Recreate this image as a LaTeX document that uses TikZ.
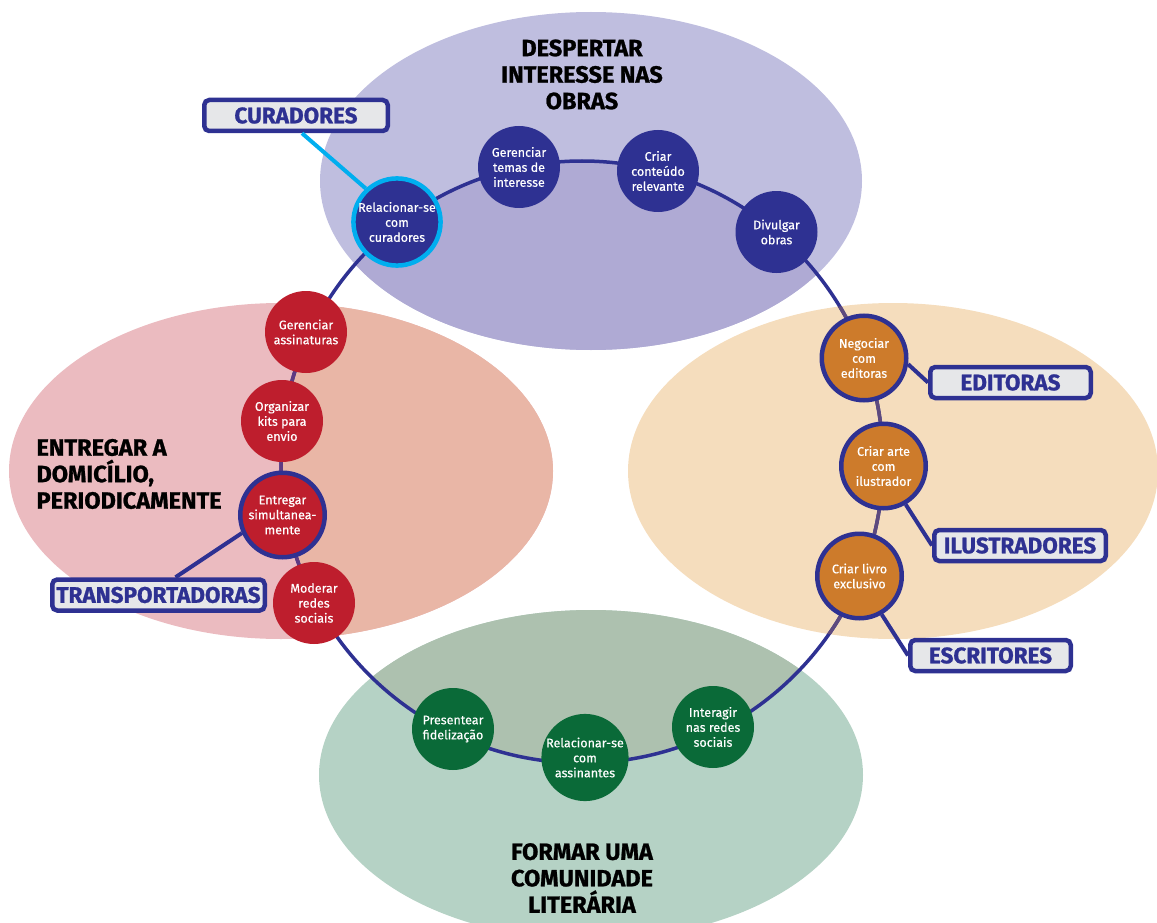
\documentclass[tikz,border=0pt]{standalone}
\usepackage{fontspec}
\setmainfont{Fira Sans}
\definecolor{navy}{HTML}{2E3192}
\definecolor{cyanring}{HTML}{00AEEF}
\definecolor{nodered}{HTML}{BE1E2D}
\definecolor{nodeorange}{HTML}{CD7B2B}
\definecolor{nodegreen}{HTML}{0A6A38}
\definecolor{tagfill}{HTML}{E6E7E9}
\definecolor{purpleout}{HTML}{BFBEDF}
\definecolor{purplein}{HTML}{AFAAD4}
\definecolor{redout}{HTML}{EBBBC0}
\definecolor{redin}{HTML}{E9B6A6}
\definecolor{orangebg}{HTML}{F5DDBD}
\definecolor{greenout}{HTML}{B5D2C5}
\definecolor{greenin}{HTML}{ADC1AF}
\definecolor{redline}{HTML}{5E3A82}
\definecolor{orangeline}{HTML}{5E4A7E}
\begin{document}
\begin{tikzpicture}[x=1pt,y=-1pt,
  act/.style={circle, fill=#1, minimum size=82pt, inner sep=0pt, text=white,
    align=center, font=\fontsize{12.5}{15}\selectfont\addfontfeature{FakeBold=0.4}},
  ringed/.style={draw=#1, line width=4.5pt, minimum size=84.5pt},
  tag/.style={draw=navy, line width=4.5pt, fill=tagfill, rounded corners=5pt,
    text=navy, font=\fontsize{22.5}{26}\bfseries\selectfont\addfontfeature{FakeBold=1},
    minimum height=31pt, inner sep=0pt},
  title/.style={align=#1, font=\fontsize{23.5}{26.5}\bfseries\selectfont\addfontfeature{FakeBold=1},
    text=black},
  ring/.style={draw=navy, line width=3.5pt},
  link/.style={draw=navy, line width=4pt}
]
\clip (0,0) rectangle (1157,923);
\coordinate (hub) at (582,462);

% four goal areas
\fill[purpleout] (591,181) ellipse [x radius=271, y radius=169];
\fill[redout]    (281,471) ellipse [x radius=272, y radius=168];
\fill[orangebg]  (893,471) ellipse [x radius=265, y radius=168];
\fill[greenout]  (591,775) ellipse [x radius=272, y radius=165];
\begin{scope}
  \clip (hub) circle [radius=301];
  \fill[purplein] (591,181) ellipse [x radius=271, y radius=169];
  \fill[redin]    (281,471) ellipse [x radius=272, y radius=168];
  \fill[greenin]  (591,775) ellipse [x radius=272, y radius=165];
\end{scope}

% cycle of activities
\draw[ring] (hub) circle [radius=301];
\begin{scope}
  \clip (281,471) ellipse [x radius=272, y radius=168];
  \draw[ring, draw=redline] (hub) circle [radius=301];
\end{scope}
\begin{scope}
  \clip (893,471) ellipse [x radius=265, y radius=168];
  \draw[ring, draw=orangeline] (hub) circle [radius=301];
\end{scope}

% goal titles
\node[title=center] (tdesp) at (582,74.5) {DESPERTAR\\INTERESSE NAS\\OBRAS};
\node[title=left, anchor=west] (tentr) at (33,474) {ENTREGAR A\\DOMICÍLIO,\\PERIODICAMENTE};
\node[title=center] (tform) at (582,878) {FORMAR UMA\\COMUNIDADE\\LITERÁRIA};

% activities
\node[act=navy, ringed=cyanring] (rc) at (397,222) {Relacionar-se\\com\\curadores};
\node[act=navy] (gt) at (519,167) {Gerenciar\\temas de\\interesse};
\node[act=navy] (cc) at (658,171) {Criar\\conteúdo\\relevante};
\node[act=navy] (dv) at (776.5,232) {Divulgar\\obras};
\node[act=nodeorange, ringed=navy] (ng) at (864,358) {Negociar\\com\\editoras};
\node[act=nodeorange, ringed=navy] (ca) at (883.5,466) {Criar arte\\com\\ilustrador};
\node[act=nodeorange, ringed=navy] (cl) at (859.5,576) {Criar livro\\exclusivo};
\node[act=nodegreen] (ir) at (713,727) {Interagir\\nas redes\\sociais};
\node[act=nodegreen] (ra) at (585,757.5) {Relacionar-se\\com\\assinantes};
\node[act=nodegreen] (pf) at (453,729) {Presentear\\fidelização};
\node[act=nodered] (mr) at (314,603) {Moderar\\redes\\sociais};
\node[act=nodered, ringed=navy] (es) at (282.5,515) {Entregar\\simultanea-\\mente};
\node[act=nodered] (ok) at (282,421) {Organizar\\kits para\\envio};
\node[act=nodered] (ga) at (306,332) {Gerenciar\\assinaturas};

% partners
\node[tag, minimum width=183.5pt] (cu) at (296,115.5) {CURADORES};
\node[tag, minimum width=160.5pt] (ed) at (1010.5,382.5) {EDITORAS};
\node[tag, minimum width=171.5pt] (il) at (1020,545.5) {ILUSTRADORES};
\node[tag, minimum width=160.5pt] (wr) at (990.5,655.5) {ESCRITORES};
\node[tag, minimum width=212.5pt] (tp) at (158.5,595) {TRANSPORTADORAS};

\draw[link, draw=cyanring] ([xshift=6pt]cu.south) -- (rc.133);
\draw[link] (ed.west) -- (ng.-8);
\draw[link] (il.west) -- (ca.-60);
\draw[link] (wr.west) -- (cl.-60);
\draw[link] ([xshift=17pt]tp.north) -- (es.204);
\end{tikzpicture}
\end{document}
